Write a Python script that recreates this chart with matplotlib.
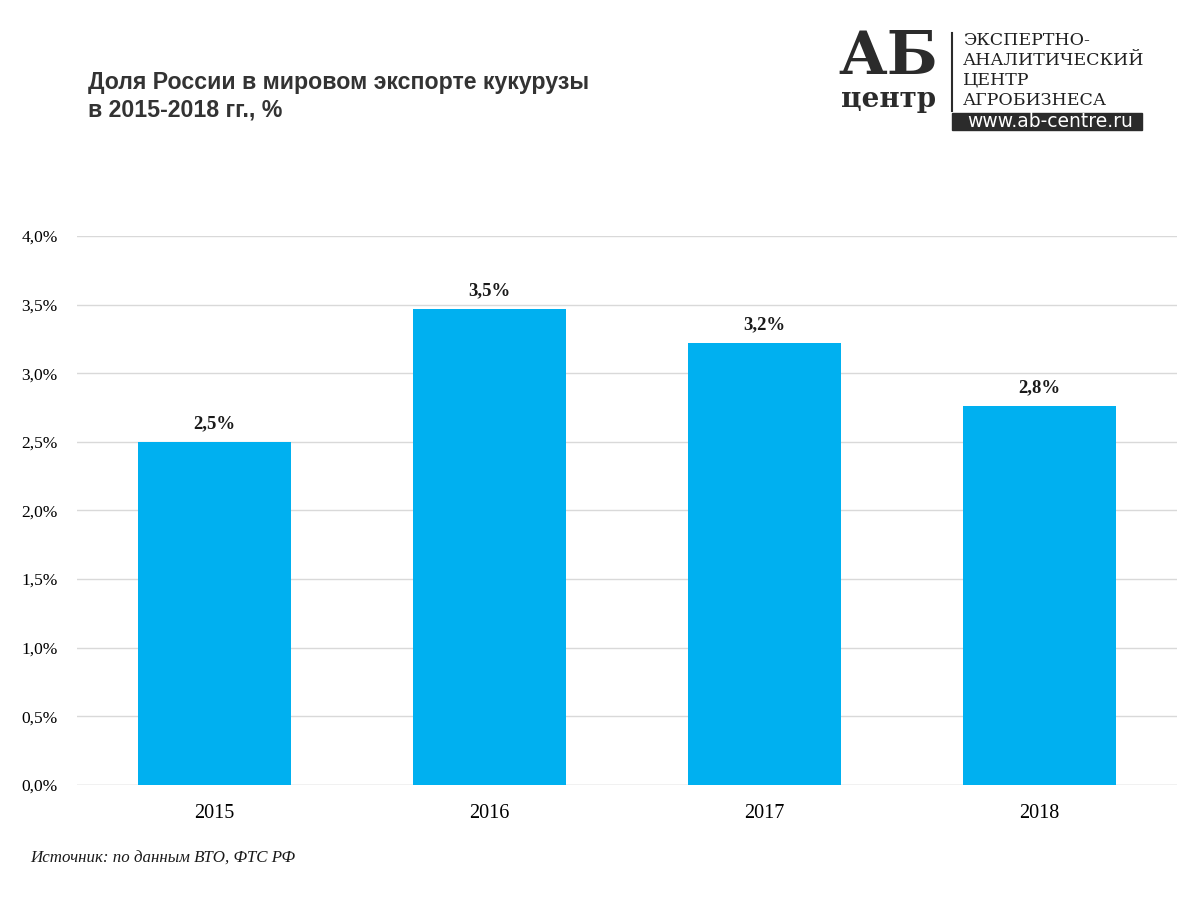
import matplotlib.pyplot as plt
from matplotlib.patches import Rectangle

years = ['2015', '2016', '2017', '2018']
shares = [2.50, 3.47, 3.22, 2.76]
value_labels = ['2,5%', '3,5%', '3,2%', '2,8%']
y_ticks = [0.0, 0.5, 1.0, 1.5, 2.0, 2.5, 3.0, 3.5, 4.0]
y_tick_labels = ['0,0%', '0,5%', '1,0%', '1,5%', '2,0%', '2,5%', '3,0%', '3,5%', '4,0%']

fig = plt.figure(figsize=(11.91, 8.99), dpi=100)
ax = fig.add_axes([0.0647, 0.1268, 0.9236, 0.6107])

x = range(len(years))
ax.bar(x, shares, width=0.556, color='#00B0F0', zorder=2)
for xi, v, lab in zip(x, shares, value_labels):
    ax.text(xi, v + 0.07, lab, ha='center', va='bottom', fontsize=13.5,
            fontweight='bold', family='Liberation Serif', color='#1a1a1a')

ax.set_xlim(-0.5, 3.5)
ax.set_ylim(0, 4.0)
ax.set_yticks(y_ticks)
ax.set_yticklabels(y_tick_labels, family='Liberation Serif', fontsize=12.5)
ax.set_xticks(list(x))
ax.set_xticklabels(years, family='Liberation Serif', fontsize=14.5)
ax.grid(axis='y', color='#d9d9d9', linewidth=1, zorder=0)
ax.tick_params(length=0, pad=14)
ax.tick_params(axis='x', pad=14)
for s in ax.spines.values():
    s.set_visible(False)
ax.axhline(0, color='#d9d9d9', linewidth=1, zorder=1)

fig.text(0.074, 0.893, 'Доля России в мировом экспорте кукурузы\nв 2015-2018 гг., %',
         ha='left', va='center', fontsize=16.7, fontweight='bold',
         family='Liberation Sans', color='#333333', linespacing=1.25)

fig.text(0.025, 0.045, 'Источник: по данным ВТО, ФТС РФ', ha='left', va='center',
         fontsize=12.2, style='italic', family='Liberation Serif', color='#1a1a1a')

# logo
fig.text(0.746, 0.937, 'АБ', ha='center', va='center', fontsize=43, fontweight='bold',
         family='DejaVu Serif', color='#2b2b2b')
fig.text(0.746, 0.889, 'центр', ha='center', va='center', fontsize=20, fontweight='bold',
         family='DejaVu Serif', color='#2b2b2b')
fig.add_artist(plt.Line2D([0.799, 0.799], [0.877, 0.963], color='#2b2b2b', linewidth=1.5))
logo_lines = ['ЭКСПЕРТНО-', 'АНАЛИТИЧЕСКИЙ', 'ЦЕНТР', 'АГРОБИЗНЕСА']
for i, line in enumerate(logo_lines):
    fig.text(0.8085, 0.955 - i * 0.0222, line, ha='left', va='center', fontsize=12.5,
             family='DejaVu Serif', color='#1f1f1f')
fig.add_artist(Rectangle((0.799, 0.855), 0.160, 0.019, transform=fig.transFigure,
                         color='#2b2b2b'))
fig.text(0.882, 0.8645, 'www.ab-centre.ru', ha='center', va='center', fontsize=13.5,
         family='DejaVu Sans', color='white')

fig.savefig('out.png', dpi=100)
